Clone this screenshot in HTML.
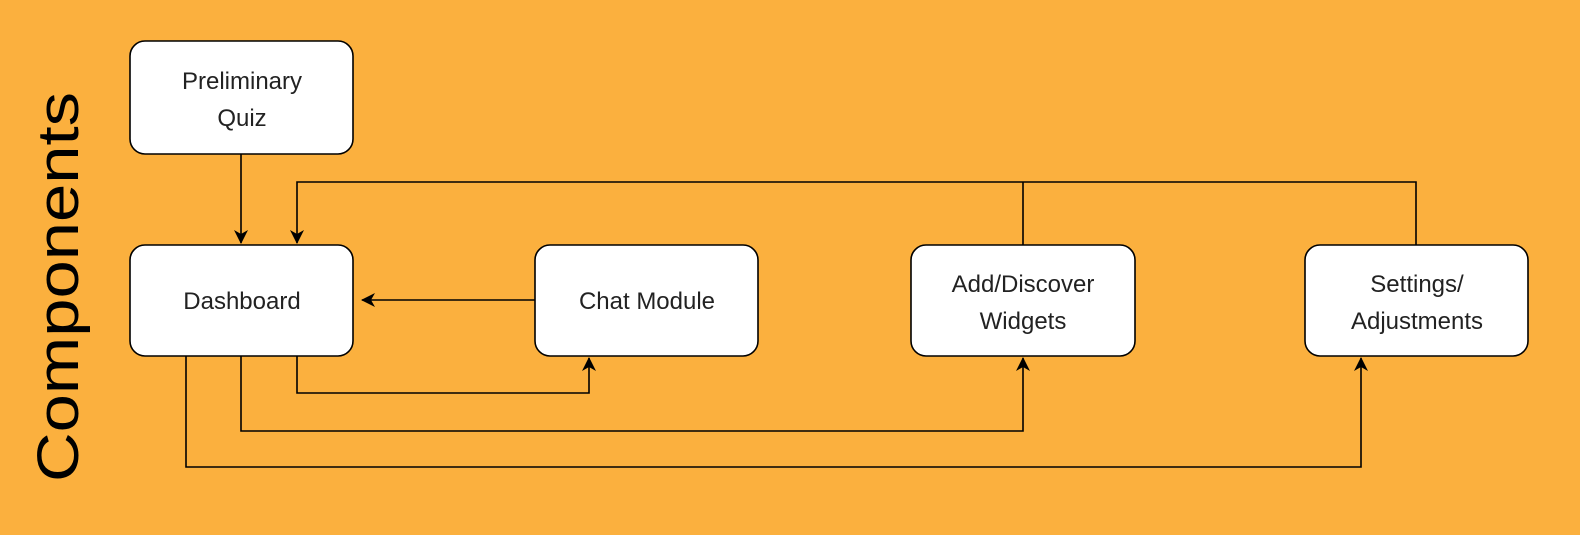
<!DOCTYPE html>
<html><head><style>
html,body{margin:0;padding:0;background:#FBB03E;}
svg{display:block}
</style></head><body>
<svg width="1580" height="535" viewBox="0 0 1580 535" xmlns="http://www.w3.org/2000/svg">
<rect width="1580" height="535" fill="#FBB03E"/>
<defs>
<marker id="a" markerWidth="16" markerHeight="14" refX="13" refY="7" orient="auto" markerUnits="userSpaceOnUse">
<path d="M0,0 L14,7 L0,14 L4,7 Z" fill="#000"/>
</marker>
</defs>
<text transform="translate(78,287) rotate(-90)" text-anchor="middle" font-family="Liberation Sans, sans-serif" font-size="58" fill="#000" textLength="390" lengthAdjust="spacingAndGlyphs">Components</text>
<g fill="none" stroke="#000" stroke-width="1.6">
<path d="M241,154 V243" marker-end="url(#a)"/>
<path d="M1023,245 V182 M1416,245 V182 H297 V243" marker-end="url(#a)"/>
<path d="M535,300 H362" marker-end="url(#a)"/>
<path d="M297,356 V393 H589 V358" marker-end="url(#a)"/>
<path d="M241,356 V431 H1023 V358" marker-end="url(#a)"/>
<path d="M186,356 V467 H1361 V358" marker-end="url(#a)"/>
</g>
<g fill="#fff" stroke="#000" stroke-width="1.6">
<rect x="130" y="41" width="223" height="113" rx="15"/>
<rect x="130" y="245" width="223" height="111" rx="15"/>
<rect x="535" y="245" width="223" height="111" rx="15"/>
<rect x="911" y="245" width="224" height="111" rx="15"/>
<rect x="1305" y="245" width="223" height="111" rx="15"/>
</g>
<g font-family="Liberation Sans, sans-serif" font-size="24" fill="#222" text-anchor="middle">
<text x="242" y="89">Preliminary</text>
<text x="242" y="126">Quiz</text>
<text x="242" y="309">Dashboard</text>
<text x="647" y="309">Chat Module</text>
<text x="1023" y="292">Add/Discover</text>
<text x="1023" y="329">Widgets</text>
<text x="1417" y="292">Settings/</text>
<text x="1417" y="329">Adjustments</text>
</g>
</svg>
</body></html>
